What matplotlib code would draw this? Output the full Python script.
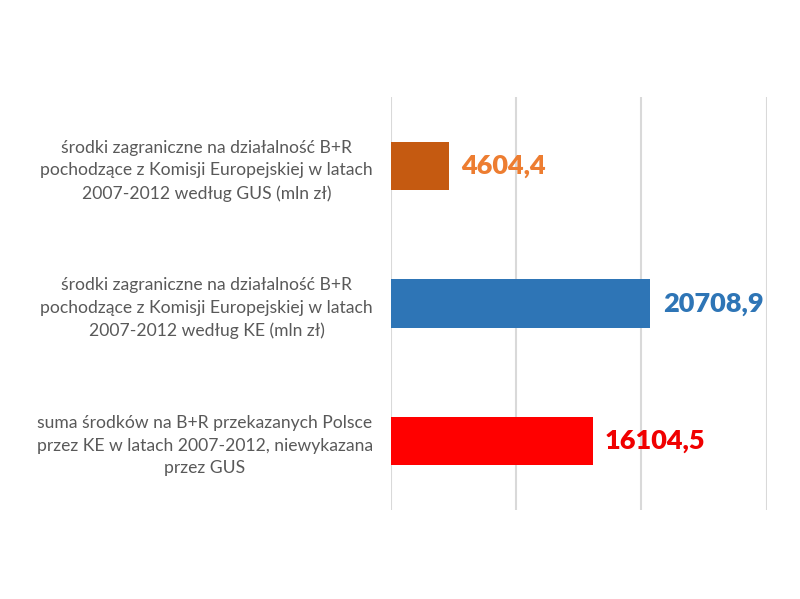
import matplotlib
matplotlib.use("Agg")
import matplotlib.pyplot as plt

categories = [
    "środki zagraniczne na działalność B+R\npochodzące z Komisji Europejskiej w latach\n2007-2012 według GUS (mln zł)",
    "środki zagraniczne na działalność B+R\npochodzące z Komisji Europejskiej w latach\n2007-2012 według KE (mln zł)",
    "suma środków na B+R przekazanych Polsce\nprzez KE w latach 2007-2012, niewykazana\nprzez GUS",
]
values = [4604.4, 20708.9, 16104.5]
value_labels = ["4604,4", "20708,9", "16104,5"]
bar_colors = ["#C55A11", "#2E75B6", "#FF0000"]
label_colors = ["#ED7D31", "#2E75B6", "#F00000"]
xticks = [0, 10000, 20000, 30000]

plt.rcParams['font.family'] = ['Lato', 'DejaVu Sans']

fig = plt.figure(figsize=(8, 5.99), dpi=100)
ax = fig.add_axes([391/800, 1 - 510/599, (766.5 - 391)/800, (510 - 97)/599])

ypos = list(range(len(categories)))
ax.barh(ypos, values, height=0.353, color=bar_colors, zorder=3)
ax.set_ylim(len(categories) - 0.5, -0.5)
ax.set_xlim(0, 30000)
ax.set_xticks(xticks)
ax.set_xticklabels([])
ax.tick_params(axis='x', length=0)
ax.grid(axis='x', color='#D9D9D9', linewidth=1.5, zorder=0)
ax.set_yticks(ypos)
ax.set_yticklabels(categories, multialignment='center', fontsize=12.6, color='#595959',
                   linespacing=1.5)
ax.tick_params(axis='y', length=0, pad=13)
for s in ax.spines.values():
    s.set_visible(False)

for y, v, lab, c in zip(ypos, values, value_labels, label_colors):
    ax.annotate(lab, (v, y), xytext=(9, 0), textcoords='offset points',
                va='center', ha='left', fontsize=19.5, fontweight='heavy', color=c)

fig.savefig("out.png", dpi=100)
